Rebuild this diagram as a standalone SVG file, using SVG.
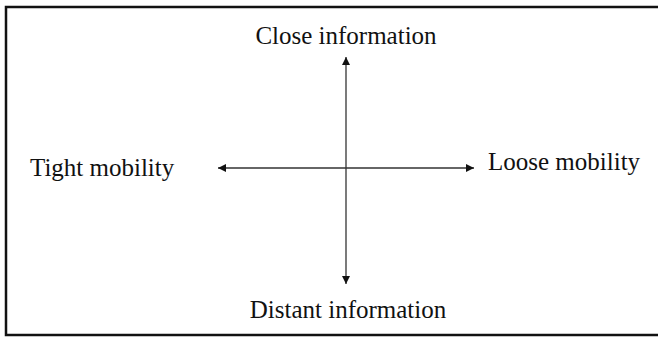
<svg xmlns="http://www.w3.org/2000/svg" width="658" height="339" viewBox="0 0 658 339">
<style>
text{font-family:"Liberation Serif","Times New Roman",serif;font-size:25px;fill:#111}
.ax{stroke:#333;stroke-width:1.3;fill:none}
</style>
<defs>
<marker id="ah" viewBox="0 0 10 10" refX="10" refY="5" markerWidth="10" markerHeight="8" markerUnits="userSpaceOnUse" orient="auto-start-reverse">
<path d="M0,0 L10,5 L0,10 z" fill="#111"/>
</marker>
</defs>
<rect x="0" y="0" width="658" height="339" fill="#fff"/>
<rect x="6" y="7" width="665" height="328" fill="none" stroke="#111" stroke-width="2.5"/>
<g id="connectors">
<line class="ax" x1="346" y1="57" x2="346" y2="284" marker-start="url(#ah)" marker-end="url(#ah)"/>
<line class="ax" x1="218" y1="168" x2="474" y2="168" marker-start="url(#ah)" marker-end="url(#ah)"/>
</g>
<g id="close"><text x="346" y="44" text-anchor="middle">Close information</text></g>
<g id="distant"><text x="348" y="318" text-anchor="middle">Distant information</text></g>
<g id="tight"><text x="30" y="176">Tight mobility</text></g>
<g id="loose"><text x="488" y="170">Loose mobility</text></g>
</svg>
